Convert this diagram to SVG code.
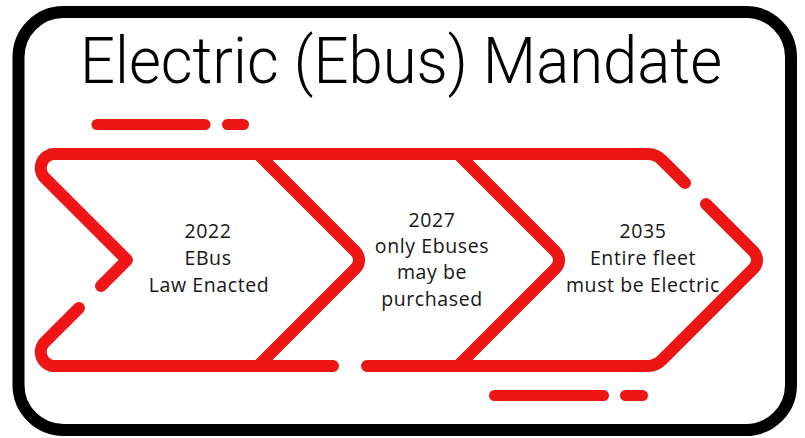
<svg xmlns="http://www.w3.org/2000/svg" width="805" height="438" viewBox="0 0 805 438">
<style>
.red{fill:none;stroke:#EE1515;stroke-width:12;stroke-linecap:round;stroke-linejoin:round}
.dash{fill:none;stroke:#EE1515;stroke-width:11;stroke-linecap:round}
.lbl{font-family:"Open Sans","Liberation Sans",sans-serif;font-size:19.5px;letter-spacing:0.6px;fill:#161616;text-anchor:middle}
.title{font-family:Roboto,"Liberation Sans",Arial,sans-serif;font-weight:300;font-size:64px;fill:#000}
</style>
<rect width="805" height="438" fill="#fff"/>
<g id="frame">
<rect x="18.5" y="12" width="772.5" height="418" rx="45" ry="45" fill="#fff" stroke="#000" stroke-width="12"/>
</g>
<g id="title">
<text class="title" x="80" y="83" textLength="642" lengthAdjust="spacingAndGlyphs">Electric (Ebus) Mandate</text>
</g>
<g id="connectors">
<path class="red" d="M101,286 L127,260 L44.9,177.9 A14,14 0 0 1 54.8,154 L647.7,154 A20,20 0 0 1 661.9,159.9 L685,183"/>
<path class="red" d="M706,204 L753.5,251.5 A12,12 0 0 1 753.5,268.5 L661.9,360.1 A20,20 0 0 1 647.7,366 L367,366"/>
<path class="red" d="M333,366 L54.8,366 A14,14 0 0 1 44.9,342.1 L79,308"/>
<path class="red" d="M258,154 L355.5,251.5 A12,12 0 0 1 355.5,268.5 L258,366"/>
<path class="red" d="M458,154 L555.5,251.5 A12,12 0 0 1 555.5,268.5 L458,366"/>
<line class="dash" x1="97" y1="124.5" x2="205" y2="124.5"/>
<line class="dash" x1="227.5" y1="124.5" x2="243.5" y2="124.5"/>
<line class="dash" x1="494.5" y1="395.5" x2="603.5" y2="395.5"/>
<line class="dash" x1="625.5" y1="395.5" x2="642.5" y2="395.5"/>
</g>
<g id="node-2022">
<text class="lbl" x="208" y="238">2022</text>
<text class="lbl" x="208" y="265">EBus</text>
<text class="lbl" x="209" y="292">Law Enacted</text>
</g>
<g id="node-2027">
<text class="lbl" x="432" y="227">2027</text>
<text class="lbl" x="432" y="253">only Ebuses</text>
<text class="lbl" x="432" y="279">may be</text>
<text class="lbl" x="432" y="306">purchased</text>
</g>
<g id="node-2035">
<text class="lbl" x="643" y="238">2035</text>
<text class="lbl" x="643" y="265">Entire fleet</text>
<text class="lbl" x="643" y="292">must be Electric</text>
</g>
</svg>
